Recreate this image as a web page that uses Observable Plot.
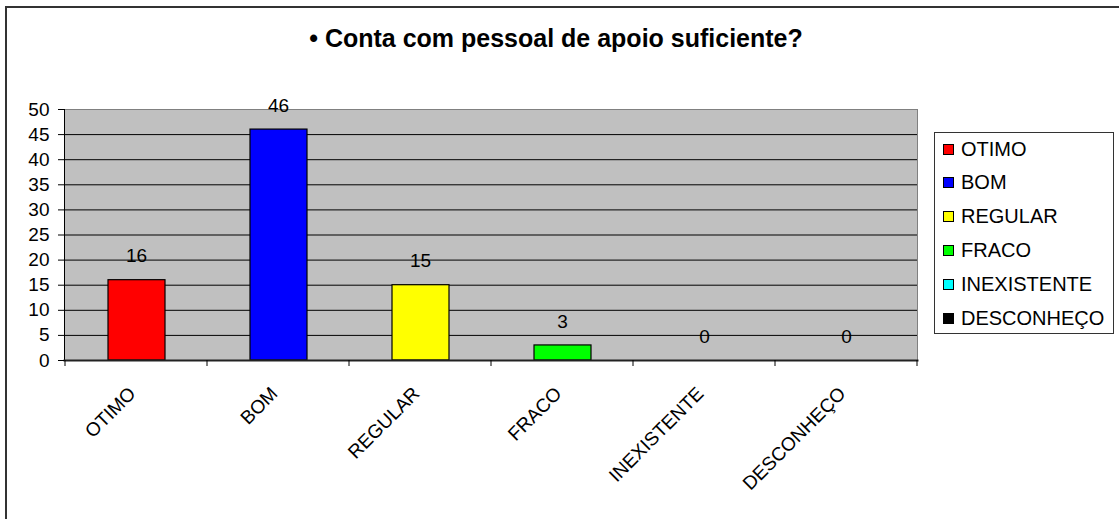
<!DOCTYPE html>
<html>
<head>
<meta charset="utf-8">
<script src="https://cdn.jsdelivr.net/npm/d3@7"></script>
<script src="https://cdn.jsdelivr.net/npm/@observablehq/plot@0.6"></script>
<style>
  html, body { margin: 0; padding: 0; background: #fff; overflow: hidden; }
  #wrap { position: relative; width: 1119px; height: 519px; overflow: hidden; font-family: "Liberation Sans", Arial, sans-serif; }
  #border { position: absolute; left: 5px; top: 6px; width: 1130px; height: 530px; border: 2px solid #333; box-sizing: border-box; }
  #chart { position: absolute; left: 0; top: 0; }
  #title { position: absolute; left: 0; top: 24px; width: 1112px; text-align: center; font-weight: bold; font-size: 25px; color: #000; }
  #legend { position: absolute; left: 934px; top: 132px; width: 180px; height: 202px; border: 1px solid #333; box-sizing: border-box; background: #fff; }
  .item { position: absolute; left: 8px; height: 24px; display: flex; align-items: center; font-size: 20px; color: #000; white-space: nowrap; }
  .sw { width: 9px; height: 9px; border: 1px solid #000; margin-right: 7px; }
</style>
</head>
<body>
<div id="wrap">
  <div id="border"></div>
  <div id="chart"></div>
  <div id="title">• Conta com pessoal de apoio suficiente?</div>
  <div id="legend"></div>
</div>
<script>
const categories = ["OTIMO", "BOM", "REGULAR", "FRACO", "INEXISTENTE", "DESCONHEÇO"];
const values = [16, 46, 15, 3, 0, 0];
const colors = ["#FF0000", "#0000FF", "#FFFF00", "#00FF00", "#00FFFF", "#000000"];
const yTicks = [0, 5, 10, 15, 20, 25, 30, 35, 40, 45, 50];
const titleText = "• Conta com pessoal de apoio suficiente?";

const data = categories.map((c, i) => ({category: c, value: values[i], color: colors[i]}));

function xBoundaryTicks(index, scales) {
  const x = scales.x;
  const y0 = scales.y(0);
  const xs = categories.map(c => x(c));
  xs.push(2 * xs[xs.length - 1] - xs[xs.length - 2]);
  const g = d3.create("svg:g");
  g.selectAll("line").data(xs).join("line")
    .attr("x1", d => d).attr("x2", d => d)
    .attr("y1", y0).attr("y2", y0 + 6)
    .attr("stroke", "#000").attr("stroke-width", 1);
  return g.node();
}

const chart = Plot.plot({
  width: 1119,
  height: 519,
  marginLeft: 64,
  marginRight: 202,
  marginTop: 109,
  marginBottom: 159,
  style: {fontFamily: "'Liberation Sans', Arial, sans-serif", fontSize: "19px", color: "#000", background: "transparent"},
  x: {type: "band", domain: categories, padding: 0, axis: null},
  y: {domain: [0, 50], axis: null},
  marks: [
    Plot.frame({fill: "#C0C0C0", stroke: "#808080"}),
    Plot.gridY(yTicks.filter(v => v > 0 && v < 50), {stroke: "#000", strokeOpacity: 1}),
    Plot.barY(data, {x: "category", y: "value", fill: "color", stroke: "#000", strokeWidth: 1.2, insetLeft: 43, insetRight: 42}),
    Plot.frame({anchor: "left", stroke: "#000"}),
    Plot.frame({anchor: "bottom", stroke: "#222", strokeWidth: 2}),
    Plot.axisY({ticks: yTicks, tickSize: 6, tickPadding: 9, fontSize: 19, label: null, stroke: "#000"}),
    xBoundaryTicks,
    Plot.text(data, {x: "category", frameAnchor: "bottom", text: "category", rotate: -45, textAnchor: "end", lineAnchor: "middle", dy: 30, dx: -4, fontSize: 19}),
    Plot.text(data, {x: "category", y: "value", text: d => String(d.value), dy: -24, fontSize: 19})
  ]
});
document.getElementById("chart").appendChild(chart);
document.getElementById("title").textContent = titleText;

const legend = document.getElementById("legend");
const rowStep = 33.8;
categories.forEach((c, i) => {
  const item = document.createElement("div");
  item.className = "item";
  item.style.top = (4 + i * rowStep) + "px";
  const sw = document.createElement("span");
  sw.className = "sw";
  sw.style.background = colors[i];
  const t = document.createElement("span");
  t.textContent = c;
  item.appendChild(sw);
  item.appendChild(t);
  legend.appendChild(item);
});
</script>
</body>
</html>
